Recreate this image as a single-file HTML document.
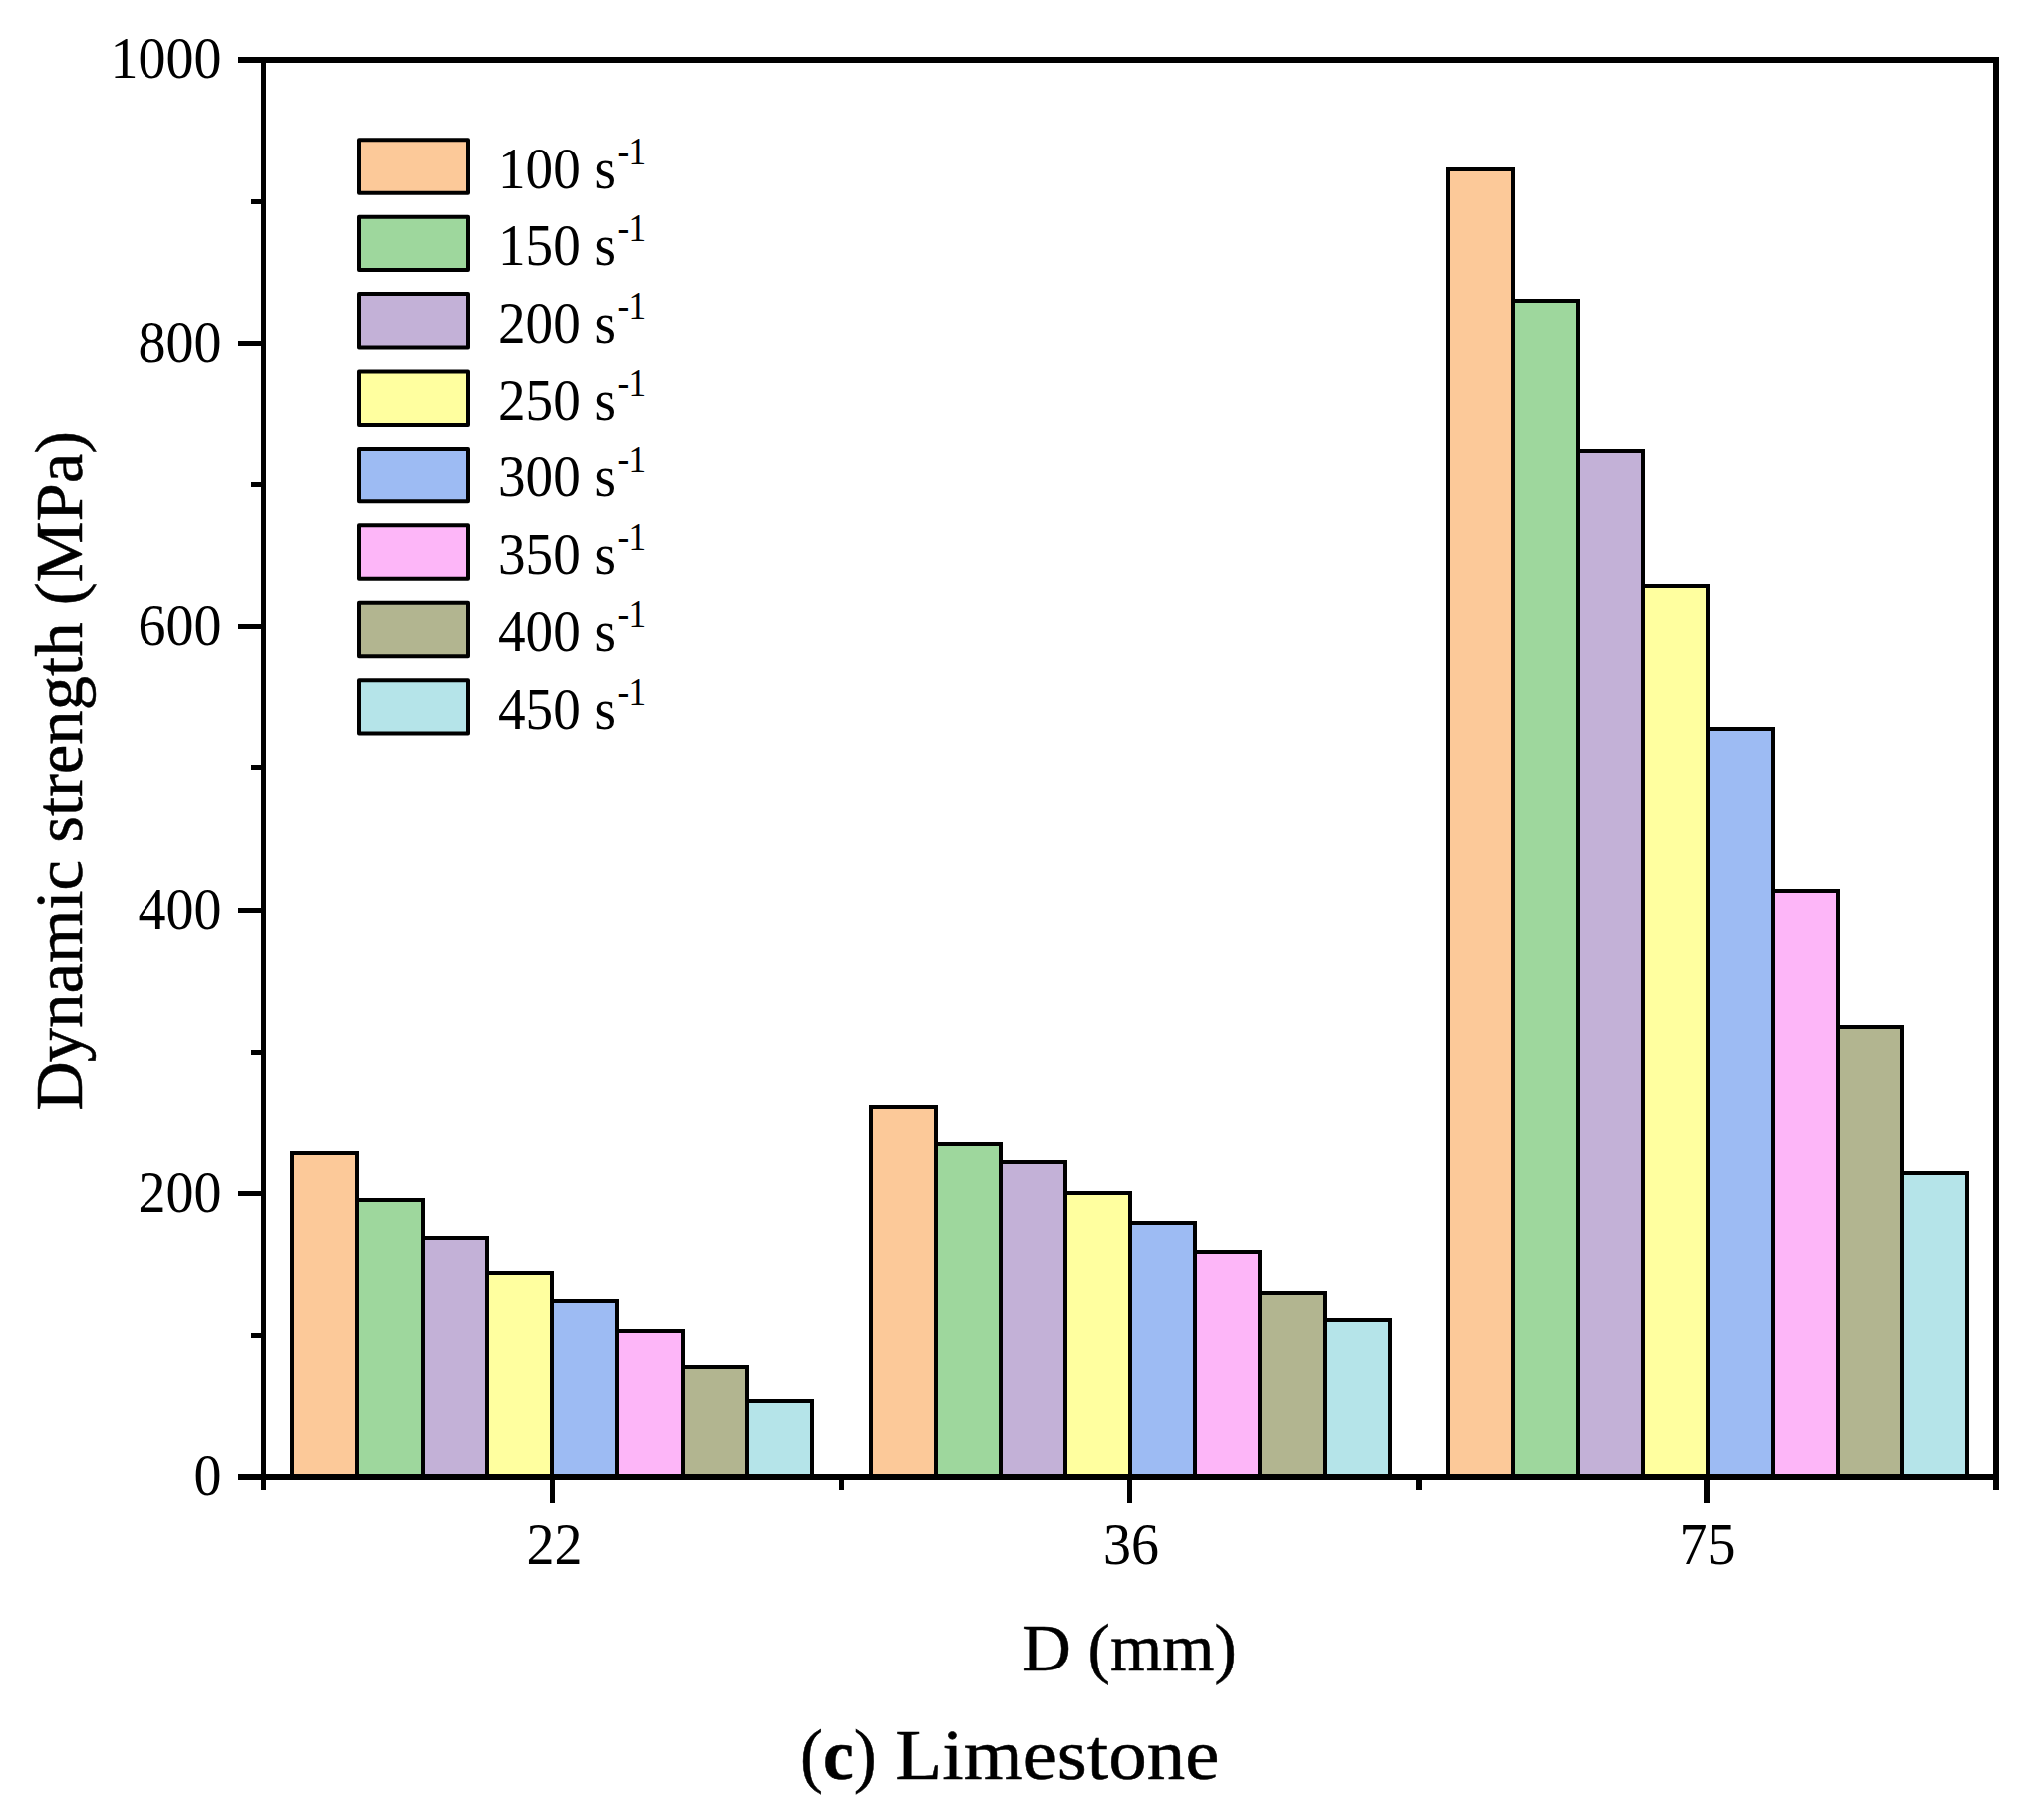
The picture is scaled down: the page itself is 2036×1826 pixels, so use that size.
<!DOCTYPE html>
<html lang="en"><head><meta charset="utf-8"><title>(c) Limestone</title>
<style>html,body{margin:0;padding:0;background:#fff}body{width:2036px;height:1826px;overflow:hidden}svg{display:block}text{font-family:"Liberation Serif","DejaVu Serif",serif;fill:#000}</style></head><body>
<svg width="2036" height="1826" viewBox="0 0 2036 1826">
<rect width="2036" height="1826" fill="#fff"/>
<g stroke="#000" stroke-width="4.00" stroke-linejoin="miter" shape-rendering="crispEdges">
<rect x="293.00" y="1157.20" width="65.25" height="324.80" fill="#FCC999"/>
<rect x="358.25" y="1204.20" width="65.25" height="277.80" fill="#9ED79D"/>
<rect x="423.50" y="1242.20" width="65.25" height="239.80" fill="#C3B1D7"/>
<rect x="488.75" y="1277.00" width="65.25" height="205.00" fill="#FFFF9F"/>
<rect x="554.00" y="1304.50" width="65.25" height="177.50" fill="#9DBBF3"/>
<rect x="619.25" y="1335.20" width="65.25" height="146.80" fill="#FDB6F8"/>
<rect x="684.50" y="1372.40" width="65.25" height="109.60" fill="#B2B590"/>
<rect x="749.75" y="1406.30" width="65.25" height="75.70" fill="#B5E4E9"/>
<rect x="874.00" y="1111.10" width="65.07" height="370.90" fill="#FCC999"/>
<rect x="939.08" y="1148.30" width="65.07" height="333.70" fill="#9ED79D"/>
<rect x="1004.15" y="1166.30" width="65.07" height="315.70" fill="#C3B1D7"/>
<rect x="1069.22" y="1197.30" width="65.07" height="284.70" fill="#FFFF9F"/>
<rect x="1134.30" y="1227.40" width="65.07" height="254.60" fill="#9DBBF3"/>
<rect x="1199.38" y="1256.00" width="65.07" height="226.00" fill="#FDB6F8"/>
<rect x="1264.45" y="1297.40" width="65.07" height="184.60" fill="#B2B590"/>
<rect x="1329.52" y="1324.20" width="65.07" height="157.80" fill="#B5E4E9"/>
<rect x="1453.20" y="170.00" width="65.10" height="1312.00" fill="#FCC999"/>
<rect x="1518.30" y="301.90" width="65.10" height="1180.10" fill="#9ED79D"/>
<rect x="1583.40" y="451.60" width="65.10" height="1030.40" fill="#C3B1D7"/>
<rect x="1648.50" y="587.90" width="65.10" height="894.10" fill="#FFFF9F"/>
<rect x="1713.60" y="730.90" width="65.10" height="751.10" fill="#9DBBF3"/>
<rect x="1778.70" y="894.20" width="65.10" height="587.80" fill="#FDB6F8"/>
<rect x="1843.80" y="1030.40" width="65.10" height="451.60" fill="#B2B590"/>
<rect x="1908.90" y="1177.00" width="65.10" height="305.00" fill="#B5E4E9"/>
</g>
<g fill="#000" shape-rendering="crispEdges">
<rect x="262" y="57" width="5" height="1438"/>
<rect x="2000" y="57" width="6" height="1438"/>
<rect x="239" y="57" width="1767" height="6"/>
<rect x="239" y="1479" width="1767" height="6"/>
<rect x="252" y="1337" width="12" height="5"/>
<rect x="239" y="1195" width="25" height="5"/>
<rect x="252" y="1053" width="12" height="5"/>
<rect x="239" y="911" width="25" height="5"/>
<rect x="252" y="768" width="12" height="5"/>
<rect x="239" y="626" width="25" height="5"/>
<rect x="252" y="484" width="12" height="5"/>
<rect x="239" y="342" width="25" height="5"/>
<rect x="252" y="200" width="12" height="5"/>
<rect x="552" y="1482" width="5" height="26"/>
<rect x="1131" y="1482" width="5" height="26"/>
<rect x="1710" y="1482" width="6" height="26"/>
<rect x="842" y="1482" width="5" height="13"/>
<rect x="1421" y="1482" width="6" height="13"/>
</g>
<text transform="translate(222.50,1500.40) scale(1.0000,1.0400)" font-size="56.00" text-anchor="end">0</text>
<text transform="translate(222.50,1216.00) scale(1.0000,1.0400)" font-size="56.00" text-anchor="end">200</text>
<text transform="translate(222.50,931.60) scale(1.0000,1.0400)" font-size="56.00" text-anchor="end">400</text>
<text transform="translate(222.50,647.20) scale(1.0000,1.0400)" font-size="56.00" text-anchor="end">600</text>
<text transform="translate(222.50,362.80) scale(1.0000,1.0400)" font-size="56.00" text-anchor="end">800</text>
<text transform="translate(222.50,78.40) scale(1.0000,1.0400)" font-size="56.00" text-anchor="end">1000</text>
<text transform="translate(556.50,1568.90) scale(1.0000,1.0400)" font-size="56.00" text-anchor="middle">22</text>
<text transform="translate(1135.00,1568.90) scale(1.0000,1.0400)" font-size="56.00" text-anchor="middle">36</text>
<text transform="translate(1713.50,1568.90) scale(1.0000,1.0400)" font-size="56.00" text-anchor="middle">75</text>
<rect x="360" y="140.25" width="110" height="53.4" fill="#FCC999" stroke="#000" stroke-width="4" stroke-linejoin="round"/>
<text transform="translate(500.00,188.70) scale(0.9850,1.0400)" font-size="56.00" text-anchor="start">100 s</text>
<text transform="translate(619.60,164.80) scale(0.9300,1.0400)" font-size="38.00" text-anchor="start" letter-spacing="-1">-1</text>
<rect x="360" y="217.67" width="110" height="53.4" fill="#9ED79D" stroke="#000" stroke-width="4" stroke-linejoin="round"/>
<text transform="translate(500.00,266.12) scale(0.9850,1.0400)" font-size="56.00" text-anchor="start">150 s</text>
<text transform="translate(619.60,242.22) scale(0.9300,1.0400)" font-size="38.00" text-anchor="start" letter-spacing="-1">-1</text>
<rect x="360" y="295.09" width="110" height="53.4" fill="#C3B1D7" stroke="#000" stroke-width="4" stroke-linejoin="round"/>
<text transform="translate(500.00,343.54) scale(0.9850,1.0400)" font-size="56.00" text-anchor="start">200 s</text>
<text transform="translate(619.60,319.64) scale(0.9300,1.0400)" font-size="38.00" text-anchor="start" letter-spacing="-1">-1</text>
<rect x="360" y="372.51" width="110" height="53.4" fill="#FFFF9F" stroke="#000" stroke-width="4" stroke-linejoin="round"/>
<text transform="translate(500.00,420.96) scale(0.9850,1.0400)" font-size="56.00" text-anchor="start">250 s</text>
<text transform="translate(619.60,397.06) scale(0.9300,1.0400)" font-size="38.00" text-anchor="start" letter-spacing="-1">-1</text>
<rect x="360" y="449.93" width="110" height="53.4" fill="#9DBBF3" stroke="#000" stroke-width="4" stroke-linejoin="round"/>
<text transform="translate(500.00,498.38) scale(0.9850,1.0400)" font-size="56.00" text-anchor="start">300 s</text>
<text transform="translate(619.60,474.48) scale(0.9300,1.0400)" font-size="38.00" text-anchor="start" letter-spacing="-1">-1</text>
<rect x="360" y="527.35" width="110" height="53.4" fill="#FDB6F8" stroke="#000" stroke-width="4" stroke-linejoin="round"/>
<text transform="translate(500.00,575.80) scale(0.9850,1.0400)" font-size="56.00" text-anchor="start">350 s</text>
<text transform="translate(619.60,551.90) scale(0.9300,1.0400)" font-size="38.00" text-anchor="start" letter-spacing="-1">-1</text>
<rect x="360" y="604.77" width="110" height="53.4" fill="#B2B590" stroke="#000" stroke-width="4" stroke-linejoin="round"/>
<text transform="translate(500.00,653.22) scale(0.9850,1.0400)" font-size="56.00" text-anchor="start">400 s</text>
<text transform="translate(619.60,629.32) scale(0.9300,1.0400)" font-size="38.00" text-anchor="start" letter-spacing="-1">-1</text>
<rect x="360" y="682.19" width="110" height="53.4" fill="#B5E4E9" stroke="#000" stroke-width="4" stroke-linejoin="round"/>
<text transform="translate(500.00,730.64) scale(0.9850,1.0400)" font-size="56.00" text-anchor="start">450 s</text>
<text transform="translate(619.60,706.74) scale(0.9300,1.0400)" font-size="38.00" text-anchor="start" letter-spacing="-1">-1</text>
<text transform="translate(1133.50,1676.00) scale(0.9950,1.0000)" font-size="67.50" text-anchor="middle" stroke="#000" stroke-width="0.5">D (mm)</text>
<text transform="translate(81.8,773.3) rotate(-90) scale(1.003,1)" font-size="68.5" text-anchor="middle" stroke="#000" stroke-width="0.5">Dynamic strength (MPa)</text>
<text transform="translate(803,1785) scale(0.96,1)" font-size="72" stroke="#000" stroke-width="0.5">(<tspan font-weight="bold">c</tspan>)</text>
<text transform="translate(898.3,1785) scale(1.07,1)" font-size="72" stroke="#000" stroke-width="0.5">Limestone</text>
</svg></body></html>
